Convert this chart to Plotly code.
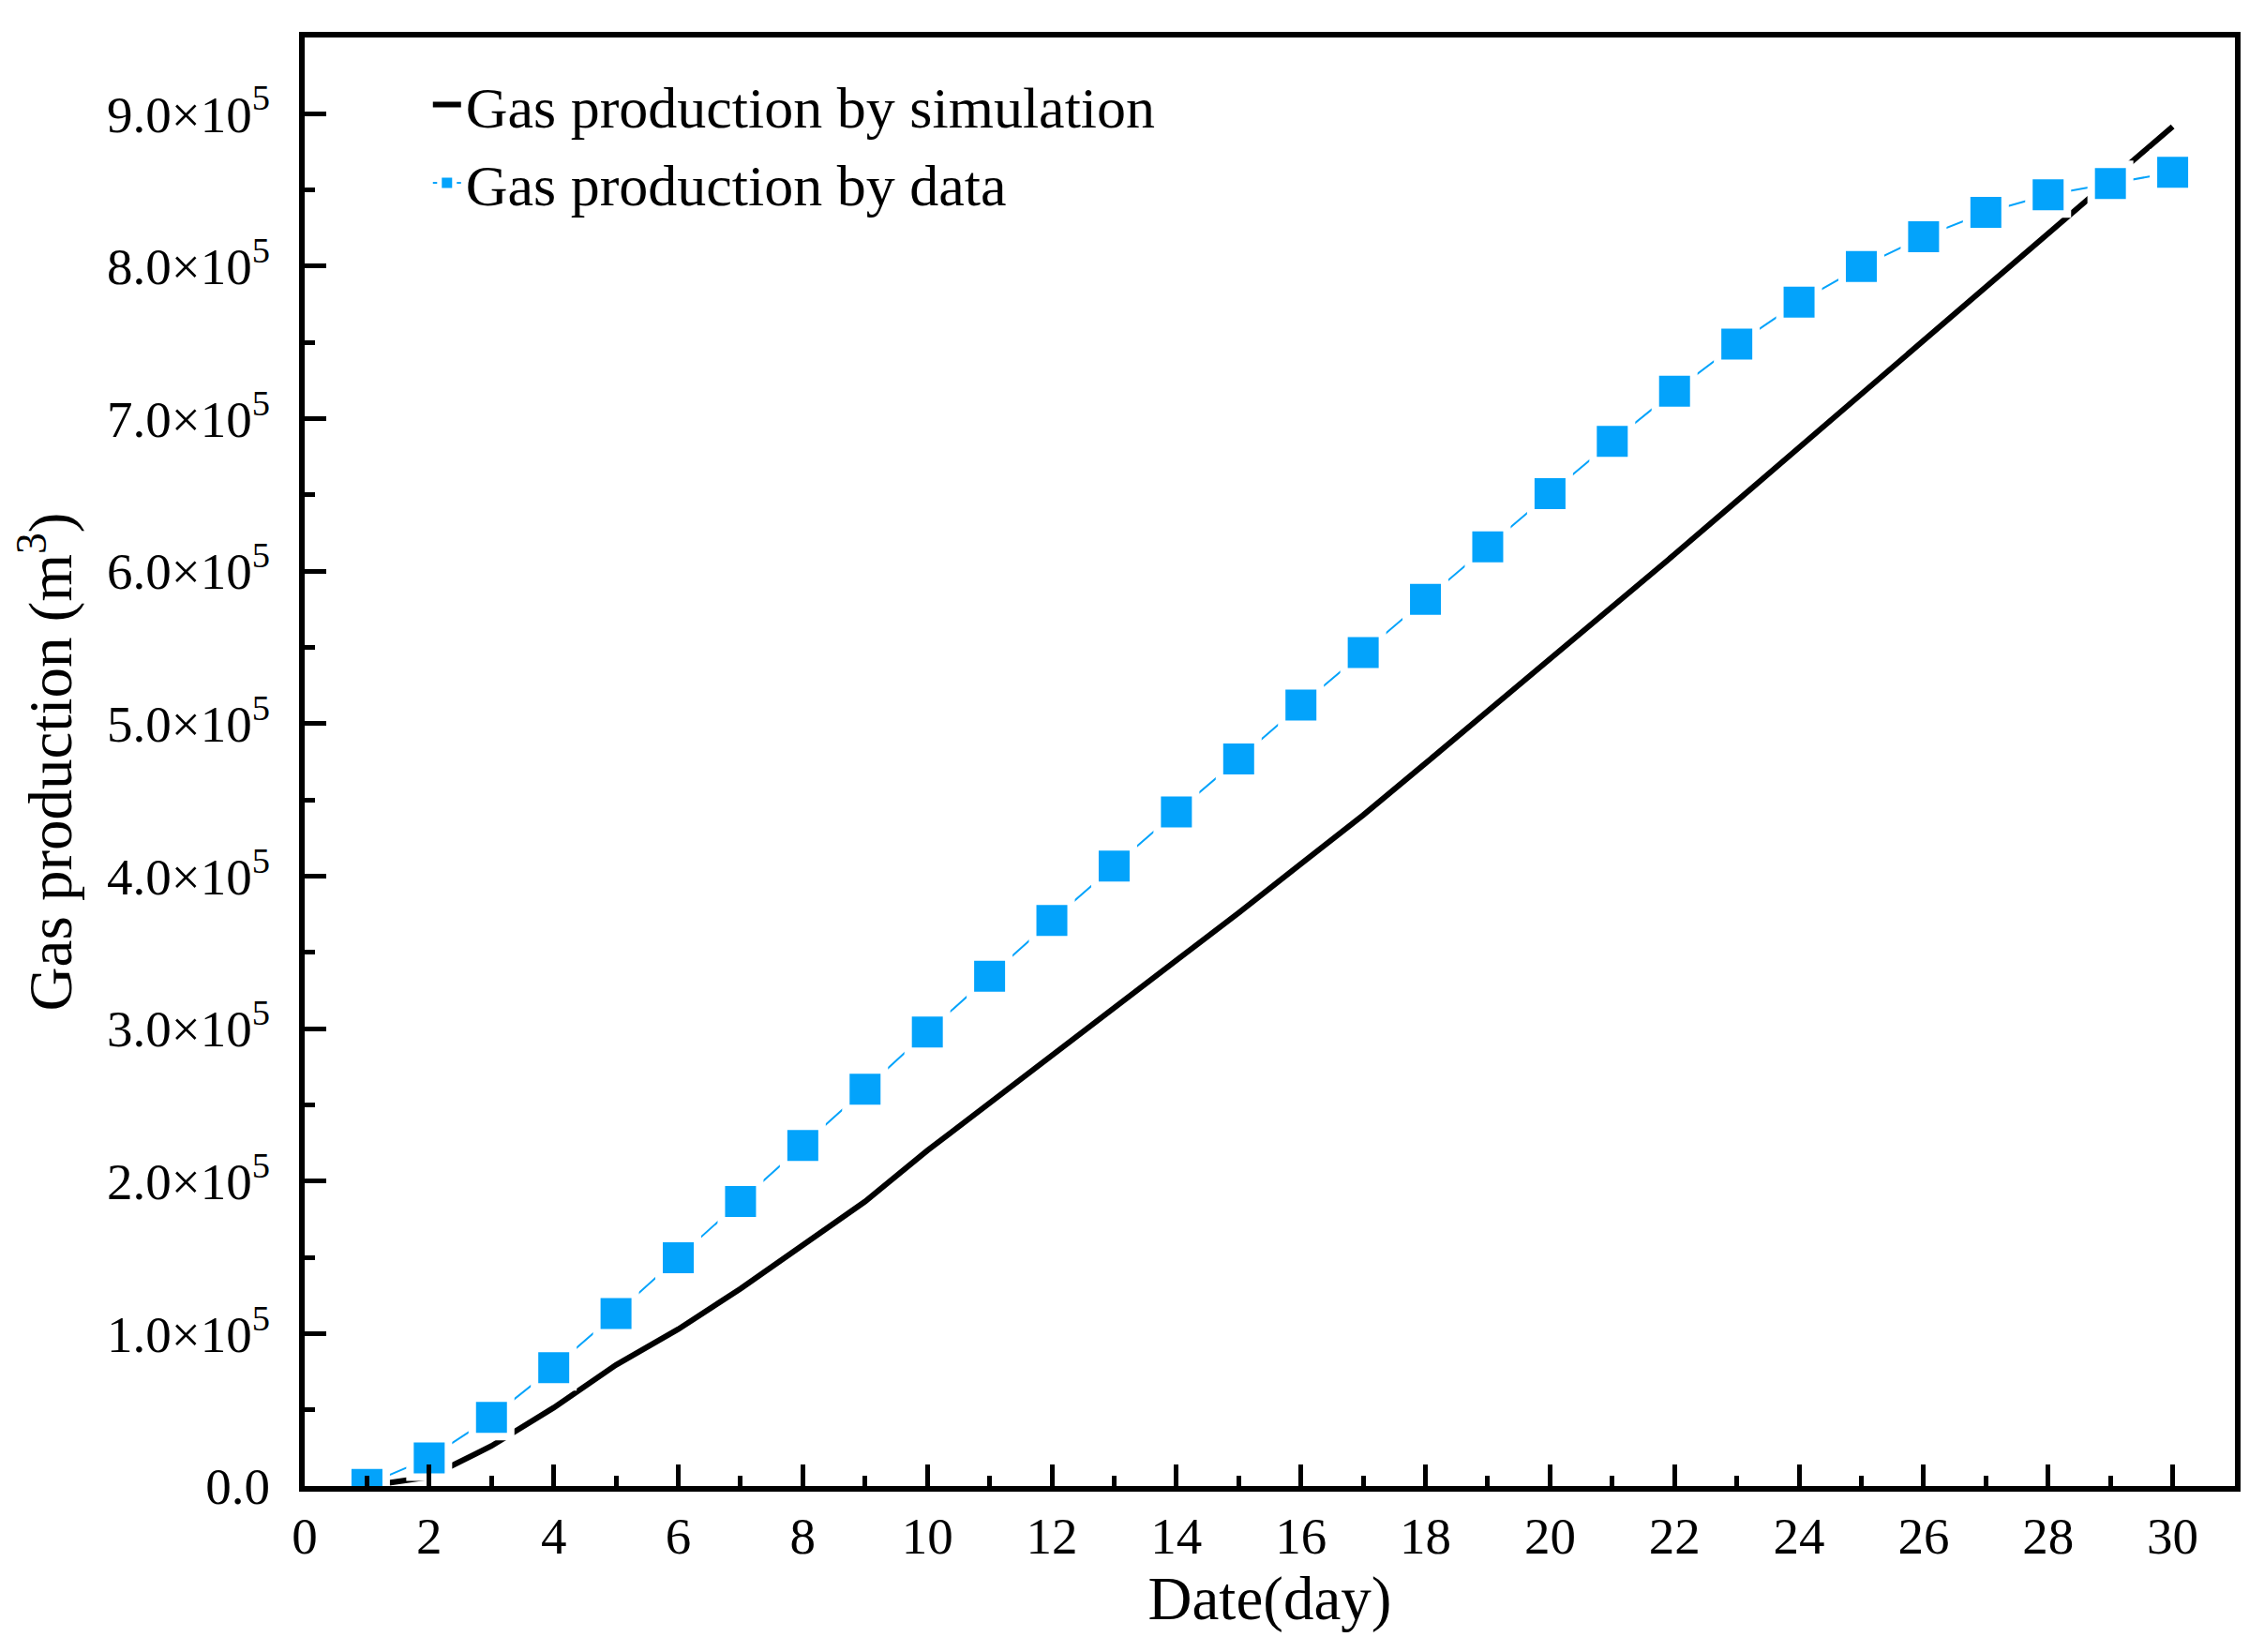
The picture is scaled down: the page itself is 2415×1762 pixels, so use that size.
import plotly.graph_objects as go

# cumulative gas production, m^3, day 1..30
days = list(range(1, 31))
sim_gas = [0, 6000, 26300, 51400, 79400, 102900, 129400, 158400, 186600, 220000,
           251000, 282000, 313000, 345000, 376000, 408000, 440000, 474000, 508000, 542000,
           576000, 611000, 646000, 681000, 716000, 751000, 786000, 821000, 856000, 891600]
data_gas = [1000, 18400, 45100, 77600, 113100, 149800, 186600, 223300, 260300, 297700,
            334300, 371000, 406600, 442100, 476900, 512200, 546700, 581600, 615900, 650900,
            685200, 718100, 748900, 776500, 799800, 819300, 835300, 846900, 854200, 861600]

y_tick_vals = [0, 100000, 200000, 300000, 400000, 500000, 600000, 700000, 800000, 900000]
y_tick_text = ["0.0", "1.0×10<sup>5</sup>", "2.0×10<sup>5</sup>", "3.0×10<sup>5</sup>",
               "4.0×10<sup>5</sup>", "5.0×10<sup>5</sup>", "6.0×10<sup>5</sup>",
               "7.0×10<sup>5</sup>", "8.0×10<sup>5</sup>", "9.0×10<sup>5</sup>"]

FONT = "Liberation Serif, Times New Roman, serif"
BLUE = "#03A3FB"

fig = go.Figure()

fig.add_trace(go.Scatter(
    x=days, y=sim_gas,
    mode="lines",
    line={"color": "black", "width": 6},
    name="Gas production by simulation",
))

# white outline on the squares gives the small gaps next to each symbol
fig.add_trace(go.Scatter(
    x=days, y=data_gas,
    mode="lines+markers",
    line={"color": BLUE, "width": 2},
    marker={"symbol": "square", "size": 41, "color": BLUE,
            "line": {"color": "white", "width": 8}},
    name="Gas production by data",
))

axis_common = dict(
    showline=True, linecolor="black", linewidth=6, mirror=True,
    ticks="inside", tickcolor="black", tickwidth=5, ticklen=23,
    showgrid=False, zeroline=False,
    tickfont={"family": FONT, "size": 55, "color": "black"},
)

# page body has an 8px margin, so the figure is sized 16px smaller than the window
fig.update_layout(
    width=2399, height=1746,
    paper_bgcolor="white", plot_bgcolor="white",
    margin={"l": 317, "r": 23, "t": 32, "b": 169},
    font={"family": FONT, "color": "black"},
    xaxis=dict(
        axis_common,
        range=[0, 31], tickmode="linear", tick0=0, dtick=2,
        ticklabelstandoff=0,
        minor={"ticks": "inside", "ticklen": 11, "tickwidth": 5, "tickcolor": "black",
               "tickmode": "linear", "tick0": 0, "dtick": 1},
        title={"text": "Date(day)", "font": {"family": FONT, "size": 65}, "standoff": 14},
    ),
    yaxis=dict(
        axis_common,
        range=[0, 950000], tickmode="array", tickvals=y_tick_vals, ticktext=y_tick_text,
        ticklabelstandoff=20,
        minor={"ticks": "inside", "ticklen": 11, "tickwidth": 5, "tickcolor": "black",
               "tickmode": "linear", "tick0": 0, "dtick": 50000},
        title={"text": "Gas production (m<sup>3</sup>)", "font": {"family": FONT, "size": 65},
               "standoff": 26},
    ),
    legend={
        "x": 0.064, "y": 0.984, "xanchor": "left", "yanchor": "top",
        "bgcolor": "rgba(0,0,0,0)", "borderwidth": 0,
        "font": {"family": FONT, "size": 62, "color": "black"},
        "tracegroupgap": 0,
    },
    showlegend=True,
)

fig.write_html("out.html")
